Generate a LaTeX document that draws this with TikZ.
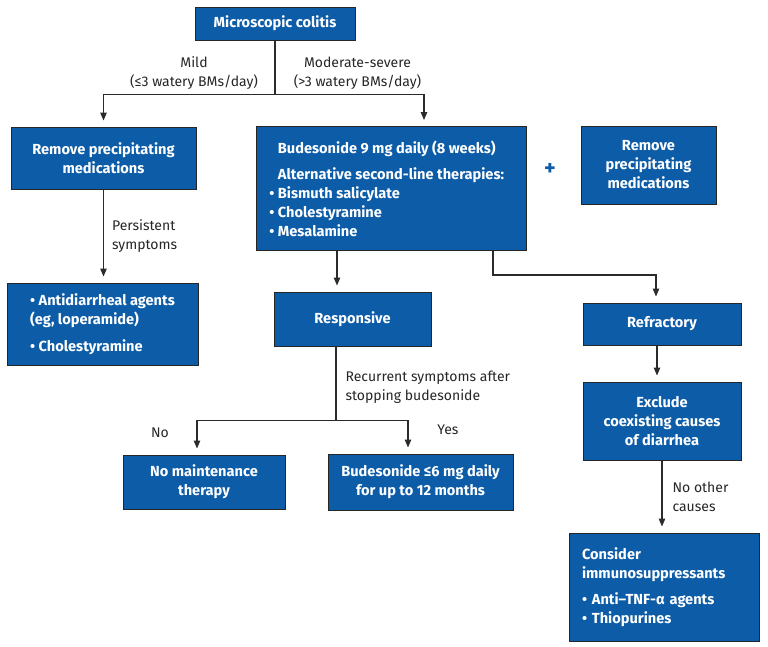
\documentclass[tikz,border=0pt]{standalone}
\usepackage{fontspec}
\setmainfont{Fira Sans}
\usepackage{xcolor}
\usetikzlibrary{arrows.meta, positioning, calc}
\definecolor{flowblue}{RGB}{12,92,168}
\definecolor{linegray}{HTML}{2B2B2B}

\begin{document}
\begin{tikzpicture}[
    x=1pt, y=-1pt,
    box/.style={rectangle, draw=black!85, fill=flowblue, line width=1pt, text=white, align=center, inner sep=0pt, font=\fontsize{14.6}{19}\selectfont\bfseries},
    lbl/.style={align=center, text=black!85, inner sep=0pt, font=\fontsize{14}{19}\selectfont},
    arr/.style={-{Triangle[length=8pt, width=6.5pt]}, line width=1.1pt, draw=linegray, shorten >=6pt},
    link/.style={line width=1.1pt, draw=linegray},
]
\useasboundingbox (0,0) rectangle (768,646);

% Start
\node[box, minimum width=160pt, minimum height=33pt] (colitis) at (275,23.5) {Microscopic colitis};

% Mild branch
\node[box, minimum width=185pt, minimum height=62pt] (removeL) at (103.5,158) {Remove precipitating\\medications};
\node[box, minimum width=191pt, minimum height=82pt, align=left] (antidiar) at (102.5,324) {• Antidiarrheal agents\\(eg, loperamide)\\[8pt]• Cholestyramine};

% Moderate-severe branch
\node[box, minimum width=270pt, minimum height=124pt, align=left] (budesonide) at (391,188.5) {Budesonide 9 mg daily (8 weeks)\\[7pt]Alternative second-line therapies:\\\llap{• }Bismuth salicylate\\\llap{• }Cholestyramine\\\llap{• }Mesalamine};
\node[font=\fontsize{22}{22}\selectfont\bfseries, text=flowblue, inner sep=0pt] (plus) at (550,169) {+};
\node[box, minimum width=135pt, minimum height=78pt] (removeR) at (648.5,165) {Remove\\precipitating\\medications};

% Outcomes
\node[box, minimum width=157pt, minimum height=54pt] (responsive) at (352.5,319) {Responsive};
\node[box, minimum width=158pt, minimum height=42pt] (refractory) at (662,324) {Refractory};
\node[box, minimum width=158pt, minimum height=78pt] (exclude) at (662,421) {Exclude\\coexisting causes\\of diarrhea};
\node[box, minimum width=190pt, minimum height=108pt, text width=164pt, align=left] (consider) at (664,587) {Consider\\immunosuppressants\\[7pt]• Anti–TNF-α agents\\• Thiopurines};

% Maintenance
\node[box, minimum width=162pt, minimum height=54pt] (nomaint) at (204,482) {No maintenance\\therapy};
\node[box, minimum width=185pt, minimum height=56pt] (budlow) at (420.5,482) {Budesonide ≤6 mg daily\\for up to 12 months};

% Labels
\node[lbl] (mild) at (194,73) {Mild\\(≤3 watery BMs/day)};
\node[lbl] (severe) at (357.5,73) {Moderate-severe\\(>3 watery BMs/day)};
\node[lbl] (no) at (160,433) {No};
\node[lbl] (yes) at (448,430) {Yes};

% Arrows
\draw[link] (colitis.south) -- ++(0,54) coordinate (split);
\draw[arr] (split) -| (removeL.north);
\draw[arr] (split) -| ([xshift=33pt]budesonide.north);
\draw[arr] (removeL.south) -- node[lbl, right=8pt, align=left] {Persistent\\symptoms} (removeL.south |- antidiar.north);
\draw[arr] ([xshift=-54pt]budesonide.south) -- ([xshift=-54pt]budesonide.south |- responsive.north);
\draw[arr] ([xshift=102pt]budesonide.south) -- ++(0,24) -| ([xshift=-6pt]refractory.north);
\draw[arr] ([xshift=-5pt]refractory.south) -- ([xshift=-5pt]exclude.north);
\draw[arr] (exclude.south) -- node[lbl, right=10pt, align=left] {No other\\causes} (exclude.south |- consider.north);
\draw[link] ([xshift=-16.5pt]responsive.south) -- node[lbl, right=9pt, align=left, pos=0.55] {Recurrent symptoms after\\stopping budesonide} ++(0,74) coordinate (split2);
\draw[arr] (split2) -| ([xshift=-7pt]nomaint.north);
\draw[arr] (split2) -| ([xshift=-12.5pt]budlow.north);

\end{tikzpicture}
\end{document}
